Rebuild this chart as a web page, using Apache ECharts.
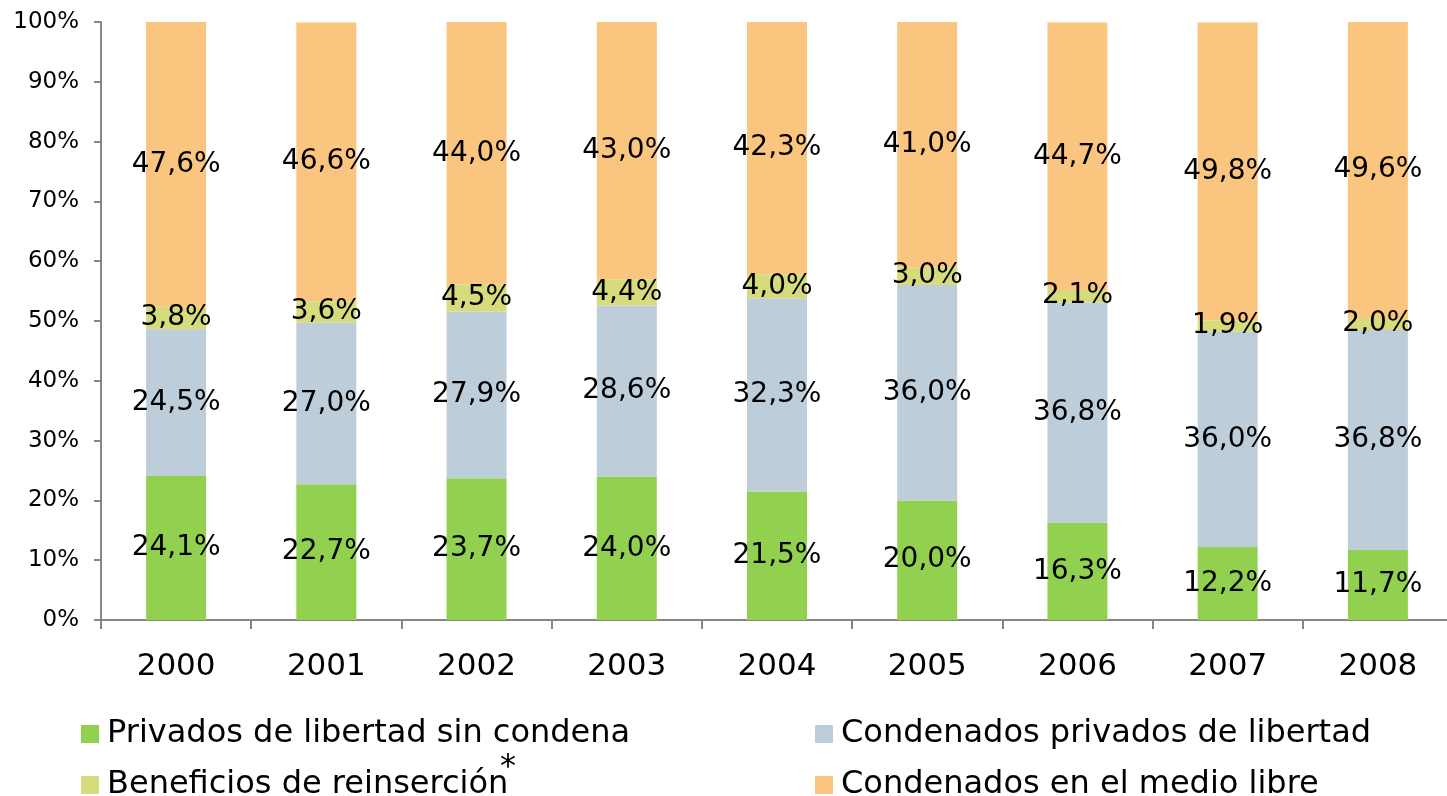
<!DOCTYPE html>
<html>
<head>
<meta charset="utf-8">
<script src="https://cdn.jsdelivr.net/npm/echarts@6/dist/echarts.min.js"></script>
<style>
  html, body { margin: 0; padding: 0; background: #fff; }
  #chart { width: 1447px; height: 796px; }
</style>
</head>
<body>
<div id="chart"></div>
<script>
const years = ['2000', '2001', '2002', '2003', '2004', '2005', '2006', '2007', '2008']
const sinCondena = [24.1, 22.7, 23.7, 24.0, 21.5, 20.0, 16.3, 12.2, 11.7]
const condenadosPrivados = [24.5, 27.0, 27.9, 28.6, 32.3, 36.0, 36.8, 36.0, 36.8]
const beneficios = [3.8, 3.6, 4.5, 4.4, 4.0, 3.0, 2.1, 1.9, 2.0]
const medioLibre = [47.6, 46.6, 44.0, 43.0, 42.3, 41.0, 44.7, 49.8, 49.6]

const names = [
  'Privados de libertad sin condena',
  'Condenados privados de libertad',
  'Beneficios de reinserción',
  'Condenados en el medio libre'
]
const colors = ['#92D050', '#BDCDDA', '#D6DB7C', '#FAC57F']
const font = 'DejaVu Sans'

function makeSeries(i, data) {
  return {
    name: names[i],
    type: 'bar',
    stack: 'total',
    barWidth: 60,
    data: data,
    itemStyle: { color: colors[i] },
    label: {
      show: true,
      position: 'inside',
      color: '#000',
      fontFamily: font,
      fontSize: 28,
      formatter: p => p.value.toFixed(1).replace('.', ',') + '%'
    }
  }
}

const legendText = {
  color: '#000',
  fontFamily: font,
  fontSize: 32,
  lineHeight: 32,
  padding: [0, 0, 0, 3]
}

function legendBox(left, data) {
  return {
    orient: 'vertical',
    left: left,
    top: 718,
    height: 140,
    padding: 0,
    icon: 'rect',
    itemWidth: 18,
    itemHeight: 18,
    itemGap: 19,
    data: data,
    textStyle: legendText
  }
}

const chart = echarts.init(document.getElementById('chart'))
chart.setOption({
  animation: false,
  grid: { left: 101, width: 1352, top: 22, bottom: 176, outerBoundsMode: 'none' },
  legend: [legendBox(81, [names[0], names[2]]), legendBox(815, [names[1], names[3]])],
  graphic: [{
    type: 'text',
    left: 500,
    top: 752,
    style: { text: '*', fontFamily: font, fontSize: 32, fill: '#000' }
  }],
  xAxis: {
    type: 'category',
    data: years,
    axisLine: { lineStyle: { color: '#868686', width: 2 } },
    axisTick: { show: true, length: 9, lineStyle: { color: '#868686', width: 2 } },
    axisLabel: { color: '#000', fontFamily: font, fontSize: 31, margin: 31 }
  },
  yAxis: {
    type: 'value',
    min: 0,
    max: 100,
    interval: 10,
    axisLine: { show: true, lineStyle: { color: '#868686', width: 2 } },
    axisTick: { show: true, length: 7, lineStyle: { color: '#868686', width: 2 } },
    splitLine: { show: false },
    axisLabel: { color: '#000', fontFamily: font, fontSize: 23, margin: 22, formatter: '{value}%' }
  },
  series: [
    makeSeries(0, sinCondena),
    makeSeries(1, condenadosPrivados),
    makeSeries(2, beneficios),
    makeSeries(3, medioLibre)
  ]
})
</script>
</body>
</html>
